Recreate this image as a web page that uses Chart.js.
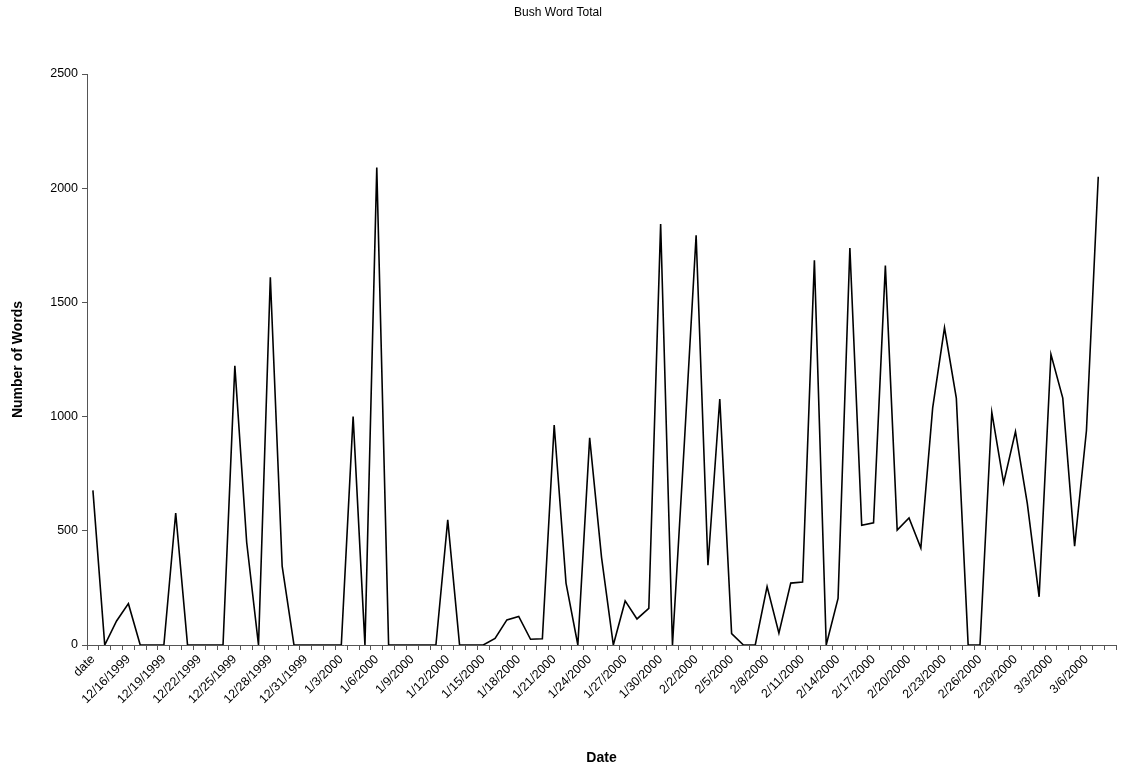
<!DOCTYPE html>
<html>
<head>
<meta charset="utf-8">
<script src="https://cdn.jsdelivr.net/npm/chart.js@4/dist/chart.umd.min.js"></script>
<style>
  html, body { margin: 0; padding: 0; background: #ffffff; }
  #wrap { width: 1125px; height: 771px; position: relative; }
</style>
</head>
<body>
<div id="wrap"><canvas id="c" width="1125" height="771"></canvas></div>
<script>
// ---- Data ----
const chartTitle = "Bush Word Total";
const xAxisTitle = "Date";
const yAxisTitle = "Number of Words";

// Category labels: header cell "date" followed by one day per category
const categories = [
  "date",
  "12/14/1999","12/15/1999","12/16/1999","12/17/1999","12/18/1999","12/19/1999",
  "12/20/1999","12/21/1999","12/22/1999","12/23/1999","12/24/1999","12/25/1999",
  "12/26/1999","12/27/1999","12/28/1999","12/29/1999","12/30/1999","12/31/1999",
  "1/1/2000","1/2/2000","1/3/2000","1/4/2000","1/5/2000","1/6/2000","1/7/2000",
  "1/8/2000","1/9/2000","1/10/2000","1/11/2000","1/12/2000","1/13/2000","1/14/2000",
  "1/15/2000","1/16/2000","1/17/2000","1/18/2000","1/19/2000","1/20/2000","1/21/2000",
  "1/22/2000","1/23/2000","1/24/2000","1/25/2000","1/26/2000","1/27/2000","1/28/2000",
  "1/29/2000","1/30/2000","1/31/2000","2/1/2000","2/2/2000","2/3/2000","2/4/2000",
  "2/5/2000","2/6/2000","2/7/2000","2/8/2000","2/9/2000","2/10/2000","2/11/2000",
  "2/12/2000","2/13/2000","2/14/2000","2/15/2000","2/16/2000","2/17/2000","2/18/2000",
  "2/19/2000","2/20/2000","2/21/2000","2/22/2000","2/23/2000","2/24/2000","2/25/2000",
  "2/26/2000","2/27/2000","2/28/2000","2/29/2000","3/1/2000","3/2/2000","3/3/2000",
  "3/4/2000","3/5/2000","3/6/2000","3/7/2000","3/8/2000"
];

// Word totals (last category has no value)
const wordTotals = [
  677, 0, 105, 181, 0, 0, 0, 578, 0, 0,
  0, 0, 1222, 450, 0, 1610, 345, 0, 0, 0,
  0, 0, 1000, 0, 2090, 0, 0, 0, 0, 0,
  548, 0, 0, 0, 29, 110, 125, 25, 27, 963,
  271, 0, 907, 385, 0, 193, 114, 160, 1843, 0,
  880, 1794, 349, 1077, 50, 0, 0, 256, 52, 271,
  276, 1684, 0, 204, 1738, 524, 535, 1661, 503, 556,
  425, 1038, 1389, 1081, 0, 0, 1019, 710, 934, 620,
  211, 1273, 1081, 433, 938, 2050, null
];

// Axis tick settings
const yTickValues = [0, 500, 1000, 1500, 2000, 2500];
const labelEvery = 3;

const FONT = "'Liberation Sans', Arial, Helvetica, sans-serif";
const AXIS_COLOR = "#555555";

new Chart(document.getElementById("c"), {
  type: "line",
  data: {
    labels: categories,
    datasets: [{
      label: yAxisTitle,
      data: wordTotals,
      borderColor: "#000000",
      backgroundColor: "#000000",
      borderWidth: 1.6,
      pointRadius: 0,
      pointHoverRadius: 0,
      tension: 0,
      fill: false,
      spanGaps: false
    }]
  },
  options: {
    responsive: false,
    animation: false,
    devicePixelRatio: 1,
    layout: { padding: { left: 0, right: 9, top: 0, bottom: 0 } },
    plugins: {
      legend: { display: false },
      tooltip: { enabled: false },
      title: {
        display: true,
        text: chartTitle,
        color: "#000000",
        font: { family: FONT, size: 12, weight: "normal" },
        padding: { top: 5, bottom: 54.6 }
      }
    },
    scales: {
      x: {
        type: "category",
        offset: true,
        grid: {
          display: true,
          offset: true,
          drawOnChartArea: false,
          drawTicks: true,
          tickLength: 5,
          color: AXIS_COLOR,
          lineWidth: 1
        },
        border: { display: true, color: AXIS_COLOR, width: 1 },
        ticks: {
          autoSkip: false,
          maxRotation: 45,
          minRotation: 45,
          padding: 2,
          color: "#000000",
          font: { family: FONT, size: 12.5 },
          callback: function(value, index) {
            return index % labelEvery === 0 ? categories[index] : "";
          }
        },
        title: {
          display: true,
          text: xAxisTitle,
          color: "#000000",
          font: { family: FONT, size: 14, weight: "bold" },
          padding: { top: 0, bottom: 4.6 }
        },
        afterFit: function(scale) { scale.height = 126; }
      },
      y: {
        min: 0,
        max: 2500,
        afterBuildTicks: function(scale) {
          scale.ticks = yTickValues.map(v => ({ value: v }));
        },
        grid: {
          display: true,
          drawOnChartArea: false,
          drawTicks: true,
          tickLength: 5,
          color: AXIS_COLOR,
          lineWidth: 1
        },
        border: { display: true, color: AXIS_COLOR, width: 1 },
        ticks: {
          padding: 4,
          color: "#000000",
          font: { family: FONT, size: 12.5 },
          callback: function(value) { return String(value); }
        },
        title: {
          display: true,
          text: yAxisTitle,
          color: "#000000",
          font: { family: FONT, size: 14, weight: "bold" },
          padding: { top: 9.6, bottom: 0 }
        },
        afterFit: function(scale) { scale.width = 87; }
      }
    }
  }
});
</script>
</body>
</html>
